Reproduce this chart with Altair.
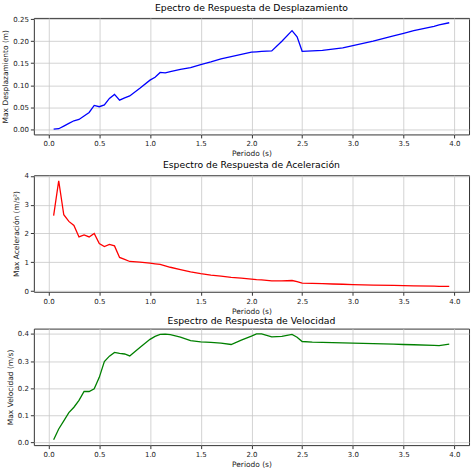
import altair as alt
import pandas as pd

periods = [0.05, 0.10, 0.15, 0.20, 0.25, 0.30, 0.35, 0.40, 0.45, 0.50, 0.55, 0.60,
           0.65, 0.70, 0.75, 0.80, 0.90, 1.00, 1.05, 1.10, 1.15, 1.20, 1.30, 1.40,
           1.50, 1.60, 1.70, 1.80, 1.90, 2.00, 2.05, 2.10, 2.20, 2.30, 2.40, 2.45,
           2.50, 2.60, 2.70, 2.80, 2.90, 3.00, 3.20, 3.40, 3.50, 3.60, 3.80, 3.85, 3.95]

desplazamiento = [0.000, 0.001, 0.007, 0.013, 0.019, 0.022, 0.030, 0.038, 0.054, 0.051,
                  0.055, 0.070, 0.079, 0.066, 0.071, 0.0755, 0.093, 0.1115, 0.118, 0.129,
                  0.128, 0.131, 0.136, 0.140, 0.147, 0.153, 0.160, 0.165, 0.170, 0.175,
                  0.176, 0.177, 0.178, 0.200, 0.224, 0.210, 0.177, 0.178, 0.179, 0.182,
                  0.185, 0.190, 0.200, 0.212, 0.218, 0.224, 0.234, 0.237, 0.242]

aceleracion = [2.62, 3.83, 2.65, 2.42, 2.28, 1.88, 1.95, 1.88, 2.00, 1.65, 1.55, 1.62,
               1.57, 1.17, 1.10, 1.03, 1.01, 0.97, 0.95, 0.93, 0.88, 0.83, 0.75, 0.67,
               0.61, 0.56, 0.52, 0.48, 0.45, 0.42, 0.40, 0.39, 0.36, 0.36, 0.37, 0.33,
               0.28, 0.27, 0.26, 0.25, 0.24, 0.23, 0.21, 0.20, 0.19, 0.185, 0.175, 0.17, 0.165]

velocidad = [0.010, 0.050, 0.080, 0.110, 0.130, 0.155, 0.188, 0.188, 0.198, 0.240,
             0.298, 0.318, 0.332, 0.328, 0.326, 0.319, 0.350, 0.380, 0.391, 0.398,
             0.399, 0.397, 0.388, 0.375, 0.371, 0.369, 0.366, 0.361, 0.377, 0.392,
             0.400, 0.400, 0.389, 0.391, 0.398, 0.388, 0.372, 0.370, 0.369, 0.368,
             0.367, 0.366, 0.364, 0.362, 0.361, 0.360, 0.358, 0.357, 0.362]

x_ticks = [0.0, 0.5, 1.0, 1.5, 2.0, 2.5, 3.0, 3.5, 4.0]

df = pd.DataFrame({
    "periodo": periods,
    "desp": desplazamiento,
    "acel": aceleracion,
    "vel": velocidad,
})


def panel(col, color, title, ytitle, ydomain, yticks, yfmt):
    return alt.Chart(df).mark_line(color=color, strokeWidth=1.3).encode(
        x=alt.X("periodo:Q",
                scale=alt.Scale(domain=[-0.145, 4.145], nice=False, zero=False),
                axis=alt.Axis(values=x_ticks, format=".1f", title="Periodo (s)")),
        y=alt.Y(f"{col}:Q",
                scale=alt.Scale(domain=ydomain, nice=False, zero=False),
                axis=alt.Axis(values=yticks, format=yfmt, title=ytitle)),
    ).properties(
        width=437, height=117,
        title=alt.TitleParams(title, fontSize=9.3, fontWeight="normal", offset=2,
                              font="DejaVu Sans", color="#000000"),
    )


p1 = panel("desp", "#0000ff", "Epectro de Respuesta de Desplazamiento",
           "Max Desplazamiento (m)", [-0.012, 0.253],
           [0.0, 0.05, 0.10, 0.15, 0.20, 0.25], ".2f")
p2 = panel("acel", "#ff0000", "Espectro de Respuesta de Aceleración",
           "Max Aceleración (m/s²)", [-0.02, 4.02], [0, 1, 2, 3, 4], "d")
p3 = panel("vel", "#008000", "Espectro de Respuesta de Velocidad",
           "Max Velocidad (m/s)", [-0.0095, 0.4195],
           [0.0, 0.1, 0.2, 0.3, 0.4], ".1f")

chart = alt.vconcat(p1, p2, p3, spacing=1).properties(
    padding={"left": 1, "top": 2, "right": 4, "bottom": 2},
    background="white",
).configure_view(
    stroke="#333333", strokeWidth=1,
).configure_axis(
    labelFont="DejaVu Sans", labelFontSize=7, labelColor="#222222",
    titleFont="DejaVu Sans", titleFontSize=7.5, titleFontWeight="normal",
    titleColor="#222222", tickColor="#333333", tickSize=3.5, labelPadding=2,
    titlePadding=3, domain=False, gridColor="#c8c8c8", gridWidth=0.8,
)

chart.save("out.html", embed_options={"renderer": "svg", "actions": False})
